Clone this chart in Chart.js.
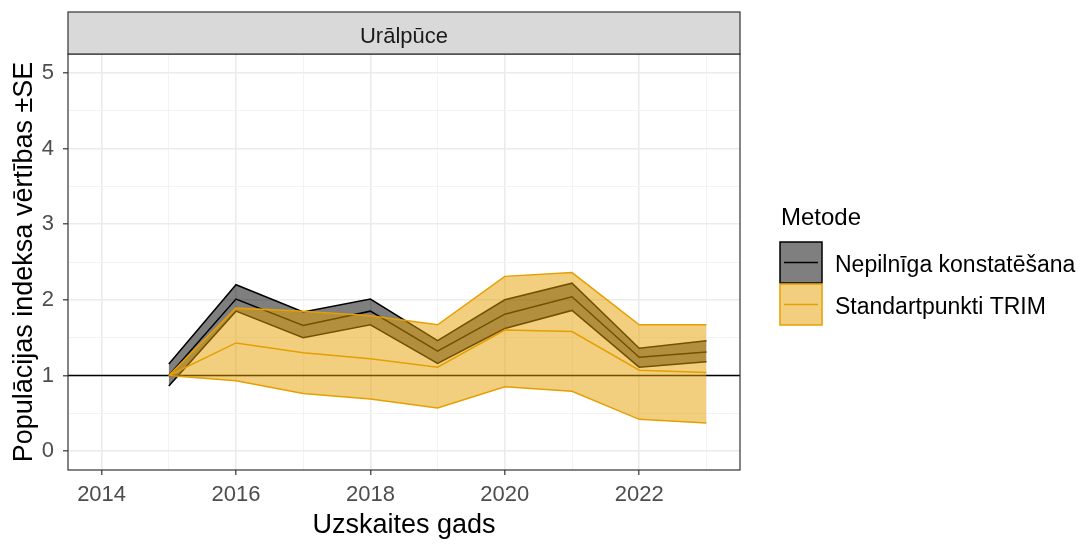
<!DOCTYPE html>
<html>
<head>
<meta charset="utf-8">
<script src="https://cdn.jsdelivr.net/npm/chart.js@4.4.0/dist/chart.umd.min.js"></script>
<style>
  html, body { margin: 0; padding: 0; background: #ffffff; }
  #wrap { width: 1083px; height: 545px; }
</style>
</head>
<body>
<div id="wrap"><canvas id="urChart" width="1083" height="545"></canvas></div>
<script>
// dati (nolasīti no attēla)
const years = [2015, 2016, 2017, 2018, 2019, 2020, 2021, 2022, 2023];

const nepMean  = [1.00, 2.01, 1.66, 1.85, 1.32, 1.81, 2.04, 1.24, 1.31];
const nepUpper = [1.15, 2.20, 1.84, 2.01, 1.46, 2.00, 2.22, 1.36, 1.46];
const nepLower = [0.86, 1.85, 1.50, 1.67, 1.16, 1.62, 1.86, 1.11, 1.18];

const trimMean  = [1.00, 1.43, 1.30, 1.22, 1.11, 1.60, 1.58, 1.07, 1.04];
const trimUpper = [1.00, 1.89, 1.85, 1.79, 1.67, 2.31, 2.36, 1.67, 1.67];
const trimLower = [1.00, 0.93, 0.76, 0.69, 0.57, 0.85, 0.79, 0.42, 0.37];

const xTicks = [2014, 2015, 2016, 2017, 2018, 2019, 2020, 2021, 2022, 2023];
const xLabels = [2014, 2016, 2018, 2020, 2022];
const yTicks = [0, 0.5, 1, 1.5, 2, 2.5, 3, 3.5, 4, 4.5, 5];
const yLabels = [0, 1, 2, 3, 4, 5];
const refValue = 1;

const facetTitle = "Urālpūce";
const xTitle = "Uzskaites gads";
const yTitle = "Populācijas indeksa vērtības ±SE";
const legendTitle = "Metode";
const seriesNames = ["Nepilnīga konstatēšana", "Standartpunkti TRIM"];

const FONT = "'Liberation Sans', Arial, sans-serif";
const orange = "#E69F00";
const orangeFill = "rgba(230,159,0,0.5)";
const greyFill = "rgba(0,0,0,0.5)";

function pts(arr) {
  return arr.map((v, i) => ({ x: years[i], y: v }));
}

function lineDs(label, arr, color, fill, bg) {
  return {
    label: label,
    data: pts(arr),
    borderColor: color,
    borderWidth: 1.5,
    backgroundColor: bg || "transparent",
    fill: fill || false,
    pointRadius: 0,
    tension: 0,
  };
}

// secība: mazākais indekss tiek zīmēts pēdējais (virspusē)
const datasets = [
  lineDs(seriesNames[1], trimMean, orange),
  lineDs(seriesNames[1] + " augša", trimUpper, orange, "+1", orangeFill),
  lineDs(seriesNames[1] + " apakša", trimLower, orange),
  lineDs(seriesNames[0], nepMean, "#000000"),
  lineDs(seriesNames[0] + " augša", nepUpper, "#000000", "+1", greyFill),
  lineDs(seriesNames[0] + " apakša", nepLower, "#000000"),
];

// ggplot stila rāmis, josla, virsraksti un leģenda
const ggExtras = {
  id: "ggExtras",
  beforeDatasetsDraw(chart) {
    const ctx = chart.ctx;
    const a = chart.chartArea;
    const y = chart.scales.y.getPixelForValue(refValue);
    ctx.save();
    ctx.strokeStyle = "#000000";
    ctx.lineWidth = 1.5;
    ctx.beginPath();
    ctx.moveTo(a.left, y);
    ctx.lineTo(a.right, y);
    ctx.stroke();
    ctx.restore();
  },
  afterDraw(chart) {
    const ctx = chart.ctx;
    const a = chart.chartArea;
    ctx.save();

    // paneļa rāmis
    ctx.strokeStyle = "#333333";
    ctx.lineWidth = 1.2;
    ctx.strokeRect(a.left, a.top, a.right - a.left, a.bottom - a.top);

    // fasetes josla
    const stripTop = 12;
    ctx.fillStyle = "#D9D9D9";
    ctx.fillRect(a.left, stripTop, a.right - a.left, a.top - stripTop);
    ctx.strokeRect(a.left, stripTop, a.right - a.left, a.top - stripTop);
    ctx.fillStyle = "#1A1A1A";
    ctx.font = "22px " + FONT;
    ctx.textAlign = "center";
    ctx.textBaseline = "alphabetic";
    ctx.fillText(facetTitle, (a.left + a.right) / 2, 43);

    // asu nosaukumi
    ctx.fillStyle = "#000000";
    ctx.font = "27px " + FONT;
    ctx.fillText(xTitle, (a.left + a.right) / 2, 533);
    ctx.save();
    ctx.translate(32, (a.top + a.bottom) / 2);
    ctx.rotate(-Math.PI / 2);
    ctx.fillText(yTitle, 0, 0);
    ctx.restore();

    // leģenda
    ctx.textAlign = "left";
    ctx.font = "24px " + FONT;
    ctx.fillText(legendTitle, 781, 225);

    const keys = [
      { fill: greyFill, line: "#000000", y: 242 },
      { fill: orangeFill, line: orange, y: 284 },
    ];
    ctx.font = "23px " + FONT;
    keys.forEach((k, i) => {
      ctx.fillStyle = k.fill;
      ctx.fillRect(780, k.y, 42, 41);
      ctx.strokeStyle = k.line;
      ctx.lineWidth = 1.5;
      ctx.strokeRect(780, k.y, 42, 41);
      ctx.beginPath();
      ctx.moveTo(784, k.y + 20.5);
      ctx.lineTo(818, k.y + 20.5);
      ctx.stroke();
      ctx.fillStyle = "#000000";
      ctx.fillText(seriesNames[i], 835, k.y + 29.5);
    });

    ctx.restore();
  },
};

const ctx = document.getElementById("urChart").getContext("2d");

const chart = new Chart(ctx, {
  type: "line",
  data: { datasets: datasets },
  options: {
    responsive: false,
    animation: false,
    devicePixelRatio: 1,
    layout: { padding: { left: 0, right: 343, top: 54, bottom: 0 } },
    plugins: {
      legend: { display: false },
      tooltip: { enabled: false },
      filler: { drawTime: "beforeDatasetDraw" },
    },
    scales: {
      x: {
        type: "linear",
        min: 2013.5,
        max: 2023.5,
        afterBuildTicks: (s) => { s.ticks = xTicks.map((v) => ({ value: v })); },
        afterFit: (s) => { s.height = 75; },
        border: { display: false },
        grid: {
          color: (c) => (xLabels.includes(c.tick.value) ? "#EBEBEB" : "#F2F2F2"),
          lineWidth: (c) => (xLabels.includes(c.tick.value) ? 1.6 : 0.9),
          tickColor: (c) => (xLabels.includes(c.tick.value) ? "#333333" : "rgba(0,0,0,0)"),
          tickWidth: 1.2,
          tickLength: 5,
        },
        ticks: {
          autoSkip: false,
          maxRotation: 0,
          padding: 7,
          color: "#4D4D4D",
          font: { family: FONT, size: 22 },
          callback: (v) => (xLabels.includes(v) ? String(v) : ""),
        },
      },
      y: {
        type: "linear",
        min: -0.25,
        max: 5.25,
        afterBuildTicks: (s) => { s.ticks = yTicks.map((v) => ({ value: v })); },
        afterFit: (s) => { s.width = 68; },
        border: { display: false },
        grid: {
          color: (c) => (yLabels.includes(c.tick.value) ? "#EBEBEB" : "#F2F2F2"),
          lineWidth: (c) => (yLabels.includes(c.tick.value) ? 1.6 : 0.9),
          tickColor: (c) => (yLabels.includes(c.tick.value) ? "#333333" : "rgba(0,0,0,0)"),
          tickWidth: 1.2,
          tickLength: 5,
        },
        ticks: {
          autoSkip: false,
          padding: 9,
          color: "#4D4D4D",
          font: { family: FONT, size: 22 },
          callback: (v) => (yLabels.includes(v) ? String(v) : ""),
        },
      },
    },
  },
  plugins: [ggExtras],
});
</script>
</body>
</html>
